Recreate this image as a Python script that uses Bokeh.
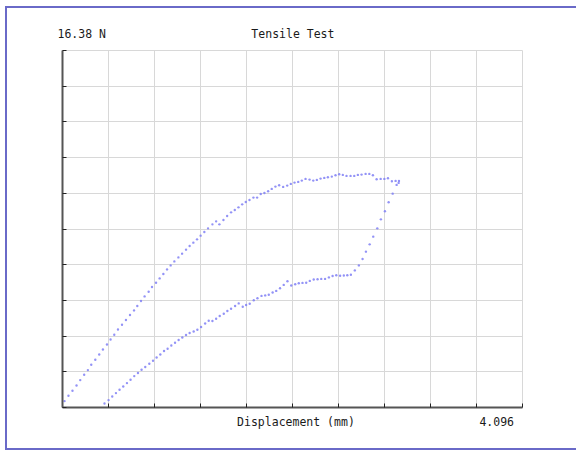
from bokeh.plotting import figure
from bokeh.models import Range1d, FixedTicker, Spacer
from bokeh.layouts import column, row
from bokeh.embed import file_html
from bokeh.resources import INLINE

# ---- data (displacement in mm, force in N) ----
X_MAX = 4.096
Y_MAX = 16.38

loading_disp = [0.018, 0.053, 0.089, 0.125, 0.158, 0.193, 0.226, 0.256, 0.292, 0.327,
                0.360, 0.396, 0.428, 0.461, 0.494, 0.530, 0.565, 0.601, 0.637, 0.666,
                0.699, 0.731, 0.767, 0.797, 0.833, 0.865, 0.898, 0.931, 0.963, 0.996,
                1.032, 1.065, 1.100, 1.132, 1.165, 1.198, 1.230, 1.263, 1.296, 1.335,
                1.368, 1.397, 1.433, 1.466, 1.501, 1.534, 1.567, 1.600, 1.632, 1.665,
                1.700, 1.733, 1.765, 1.798, 1.831, 1.863, 1.896, 1.929, 1.965, 2.001,
                2.033, 2.066, 2.099, 2.131, 2.164, 2.200, 2.233, 2.265, 2.298, 2.331,
                2.363, 2.398, 2.431, 2.464, 2.496, 2.529, 2.565, 2.598, 2.630, 2.663,
                2.699, 2.732, 2.764, 2.797, 2.833, 2.866, 2.898, 2.933, 2.966, 2.996, 2.993]
loading_force = [0.294, 0.537, 0.767, 1.010, 1.258, 1.502, 1.717, 1.961, 2.190, 2.434,
                 2.663, 2.893, 3.123, 3.338, 3.582, 3.798, 4.013, 4.243, 4.454, 4.656,
                 4.886, 5.097, 5.313, 5.529, 5.726, 5.924, 6.126, 6.337, 6.521, 6.704,
                 6.888, 7.058, 7.242, 7.412, 7.563, 7.715, 7.885, 8.054, 8.220, 8.404,
                 8.541, 8.404, 8.606, 8.789, 8.955, 9.065, 9.184, 9.322, 9.432, 9.524,
                 9.630, 9.630, 9.799, 9.845, 9.919, 10.029, 10.135, 10.194, 10.121, 10.181,
                 10.259, 10.318, 10.350, 10.410, 10.488, 10.456, 10.410, 10.443, 10.502, 10.534,
                 10.562, 10.594, 10.654, 10.700, 10.672, 10.626, 10.626, 10.626, 10.672, 10.686,
                 10.718, 10.718, 10.654, 10.470, 10.488, 10.488, 10.516, 10.378, 10.396, 10.396, 10.305]

unloading_disp = [2.975, 2.940, 2.904, 2.871, 2.835, 2.803, 2.767, 2.735, 2.702, 2.672,
                  2.639, 2.603, 2.568, 2.536, 2.505, 2.472, 2.438, 2.405, 2.372, 2.338,
                  2.304, 2.271, 2.237, 2.202, 2.170, 2.137, 2.104, 2.072, 2.037, 2.003,
                  1.970, 1.937, 1.903, 1.871, 1.837, 1.805, 1.772, 1.736, 1.703, 1.667,
                  1.635, 1.605, 1.569, 1.537, 1.501, 1.468, 1.436, 1.400, 1.368, 1.335,
                  1.302, 1.270, 1.234, 1.201, 1.168, 1.132, 1.100, 1.067, 1.034, 1.002,
                  0.969, 0.936, 0.904, 0.871, 0.838, 0.806, 0.773, 0.737, 0.704, 0.672,
                  0.639, 0.606, 0.574, 0.541, 0.508, 0.476, 0.443, 0.410, 0.374]
unloading_force = [10.213, 9.813, 9.414, 9.001, 8.633, 8.220, 7.839, 7.485, 7.150, 6.815,
                   6.521, 6.291, 6.094, 6.071, 6.057, 6.048, 6.066, 6.034, 5.970, 5.901,
                   5.901, 5.887, 5.873, 5.809, 5.726, 5.717, 5.703, 5.657, 5.598, 5.795,
                   5.625, 5.474, 5.350, 5.276, 5.175, 5.143, 5.120, 5.015, 4.923, 4.762,
                   4.702, 4.624, 4.776, 4.656, 4.532, 4.427, 4.303, 4.197, 4.073, 3.968,
                   3.981, 3.857, 3.692, 3.568, 3.490, 3.416, 3.325, 3.214, 3.095, 2.971,
                   2.847, 2.696, 2.590, 2.434, 2.296, 2.144, 2.007, 1.855, 1.731, 1.580,
                   1.442, 1.272, 1.120, 0.964, 0.813, 0.661, 0.505, 0.340, 0.184]

title_text = "Tensile Test"
y_max_label = "16.38 N"
x_axis_label = "Displacement (mm)"
x_max_label = "4.096"

N_DIV = 10
x_ticks = [round(i * X_MAX / N_DIV, 5) for i in range(N_DIV + 1)]
y_ticks = [round(i * Y_MAX / N_DIV, 5) for i in range(N_DIV + 1)]

NB = "\u00a0"
FONT = "DejaVu Sans Mono"
EDGE = "#6a6ac8"

p = figure(width=556, height=440, output_backend="svg", toolbar_location=None,
           x_range=Range1d(0, X_MAX), y_range=Range1d(0, Y_MAX),
           min_border_left=55, min_border_right=41, min_border_top=42, min_border_bottom=41)

p.background_fill_color = "white"
p.border_fill_color = "white"
p.outline_line_color = "#d8d8d8"
p.outline_line_width = 1

# header line: y-axis maximum at left, title in the middle (monospaced spacing)
p.title.text = y_max_label + NB * 21 + title_text
p.title.align = "left"
p.title.offset = -5
p.title.text_font = FONT
p.title.text_font_size = "11.5px"
p.title.text_font_style = "normal"
p.title.text_color = "#1a1a1a"
p.title.standoff = 19

for ax, ticks in ((p.xaxis, x_ticks), (p.yaxis, y_ticks)):
    ax.ticker = FixedTicker(ticks=ticks)
    ax.axis_line_color = "#555555"
    ax.axis_line_width = 2
    ax.major_tick_in = 4
    ax.major_tick_out = 0
    ax.major_tick_line_color = "#222222"
    ax.minor_tick_line_color = None
    ax.major_label_text_font_size = "1px"
    ax.major_label_text_color = None
    ax.major_label_standoff = 0

p.xaxis.axis_label = NB * 24 + x_axis_label + NB * 18 + x_max_label
p.xaxis.axis_label_text_font = FONT
p.xaxis.axis_label_text_font_size = "11.5px"
p.xaxis.axis_label_text_font_style = "normal"
p.xaxis.axis_label_text_color = "#1a1a1a"
p.xaxis.axis_label_standoff = 7

p.xgrid.grid_line_color = "#d8d8d8"
p.ygrid.grid_line_color = "#d8d8d8"

disp = loading_disp + unloading_disp
force = loading_force + unloading_force
p.scatter(disp, force, marker="circle", size=2.4, fill_color="#8080f4",
          line_color=None, fill_alpha=0.85)

# page frame: blue edges on top, left and bottom (right edge lies beyond the window)
edge_style = {"background-color": EDGE}
top_edge = Spacer(width=571, height=2, styles=edge_style)
left_edge = Spacer(width=2, height=440, styles=edge_style)
bottom_edge = Spacer(width=571, height=2, styles=edge_style)
page = column(top_edge, row(left_edge, p, spacing=0), bottom_edge, spacing=0,
              styles={"margin-left": "5px", "margin-top": "6px"})

open("out.html", "w").write(file_html(page, INLINE))
